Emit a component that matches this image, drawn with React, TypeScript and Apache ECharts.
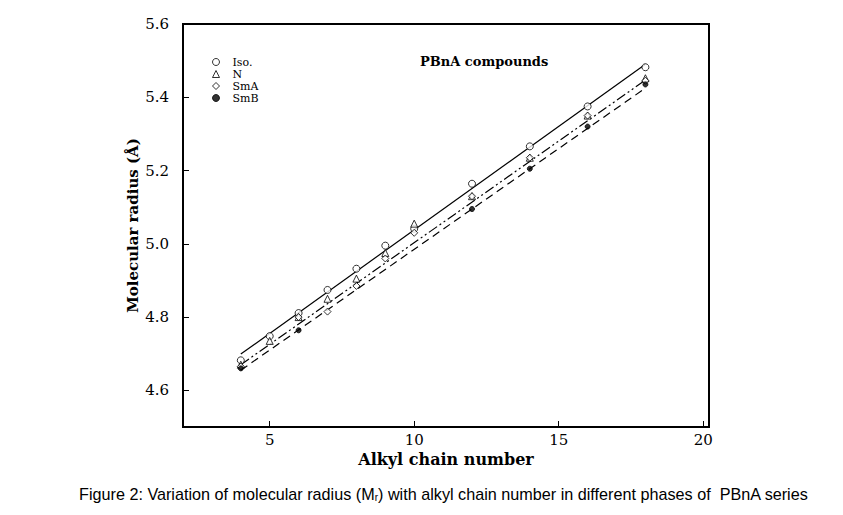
import React, { useEffect, useRef } from "react";
import * as echarts from "echarts";

const xTicks = [5, 10, 15, 20];
const yTicks = [4.6, 4.8, 5.0, 5.2, 5.4, 5.6];

const isoData: [number, number][] = [
  [4, 4.682], [5, 4.748], [6, 4.811], [7, 4.874], [8, 4.932], [9, 4.995],
  [10, 5.041], [12, 5.164], [14, 5.266], [16, 5.375], [18, 5.482],
];
const nData: [number, number][] = [
  [4, 4.67], [5, 4.735], [6, 4.8], [7, 4.85], [8, 4.905], [9, 4.975],
  [10, 5.055], [12, 5.13], [14, 5.235], [16, 5.35], [18, 5.452],
];
const smaData: [number, number][] = [
  [4, 4.665], [6, 4.8], [7, 4.815], [8, 4.885], [9, 4.96],
  [10, 5.03], [12, 5.13], [14, 5.235], [16, 5.35], [18, 5.445],
];
const smbData: [number, number][] = [
  [4, 4.66], [6, 4.764], [12, 5.095], [14, 5.205], [16, 5.32], [18, 5.435],
];

const isoFit: [number, number][] = [[4, 4.699], [18, 5.49]];
const smaFit: [number, number][] = [[4, 4.67], [18, 5.447]];
const smbFit: [number, number][] = [[4, 4.655], [18, 5.425]];

const serif = "DejaVu Serif";

export default function App() {
  const ref = useRef<HTMLDivElement>(null);
  useEffect(() => {
    if (!ref.current) return;
    const chart = echarts.init(ref.current, undefined, { renderer: "svg" });
    const scatter = (name: string, data: [number, number][], symbol: string, size: number, filled: boolean) => ({
      name,
      type: "scatter",
      data,
      symbol,
      symbolSize: size,
      itemStyle: { color: filled ? "#000" : "#fff", borderColor: "#000", borderWidth: 1 },
      z: 5,
    });
    const line = (name: string, data: [number, number][], type: any) => ({
      name,
      type: "line",
      data,
      symbol: "none",
      lineStyle: { color: "#000", width: 1.2, type },
      z: 3,
    });
    chart.setOption({
      animation: false,
      backgroundColor: "#fff",
      grid: { left: 183, right: 134, top: 24, bottom: 88, show: true, borderColor: "#000", borderWidth: 2 },
      xAxis: {
        type: "value",
        min: 2,
        max: 20.2,
        name: "Alkyl chain number",
        nameLocation: "middle",
        nameGap: 24,
        nameMoveOverlap: false,
        nameTextStyle: { fontFamily: serif, fontSize: 16, color: "#000", fontWeight: "bold" },
        axisLine: { show: false },
        axisTick: { show: true, inside: true, length: 6, customValues: xTicks, lineStyle: { color: "#000" } },
        axisLabel: { customValues: xTicks, fontFamily: serif, fontSize: 15, color: "#000", margin: 5 },
        splitLine: { show: false },
      },
      yAxis: {
        type: "value",
        min: 4.5,
        max: 5.6,
        name: "Molecular radius (Å)",
        nameLocation: "middle",
        nameGap: 43,
        nameMoveOverlap: false,
        nameTextStyle: { fontFamily: serif, fontSize: 15, color: "#000", fontWeight: "bold" },
        axisLine: { show: false },
        axisTick: { show: true, inside: true, length: 6, customValues: yTicks, lineStyle: { color: "#000" } },
        axisLabel: {
          customValues: yTicks,
          fontFamily: serif,
          fontSize: 15,
          color: "#000",
          margin: 14,
          formatter: (v: number) => v.toFixed(1),
        },
        splitLine: { show: false },
      },
      legend: {
        data: [
          { name: "Iso.", icon: "circle", itemStyle: { color: "#fff", borderColor: "#000", borderWidth: 1 } },
          { name: "N", icon: "triangle", itemStyle: { color: "#fff", borderColor: "#000", borderWidth: 1 } },
          { name: "SmA", icon: "diamond", itemStyle: { color: "#fff", borderColor: "#000", borderWidth: 1 } },
          { name: "SmB", icon: "circle", itemStyle: { color: "#000", borderColor: "#000", borderWidth: 1 } },
        ],
        orient: "vertical",
        left: 212,
        top: 56,
        padding: 0,
        itemWidth: 7,
        itemHeight: 7,
        itemGap: 0,
        textStyle: { fontFamily: serif, fontSize: 11, lineHeight: 12, color: "#000", padding: [0, 0, 0, 8] },
        selectedMode: false,
      },
      graphic: [
        {
          type: "text",
          left: 420,
          top: 55,
          style: { text: "PBnA compounds", font: `bold 13px "${serif}"`, fill: "#000" },
        },
        {
          type: "text",
          left: 79,
          top: 486,
          style: {
            text: "{a|Figure 2: Variation of molecular radius (M}{s|r}{a|) with alkyl chain number in different phases of  PBnA series}",
            rich: {
              a: { fontFamily: "Liberation Sans", fontSize: 16.2, fill: "#000" },
              s: { fontFamily: "Liberation Sans", fontSize: 10, fill: "#000", verticalAlign: "bottom", padding: [7, 0, 0, 0] },
            },
          },
        },
      ],
      series: [
        line("isoFit", isoFit, "solid"),
        line("smaFit", smaFit, [10, 3, 2, 3, 2, 3]),
        line("smbFit", smbFit, [8, 5]),
        scatter("Iso.", isoData, "circle", 7, false),
        scatter("N", nData, "triangle", 7, false),
        scatter("SmA", smaData, "diamond", 7, false),
        scatter("SmB", smbData, "circle", 5, true),
      ],
    });
    return () => chart.dispose();
  }, []);
  return <div ref={ref} style={{ width: 843, height: 515, position: "absolute", left: 0, top: 0 }} />;
}
